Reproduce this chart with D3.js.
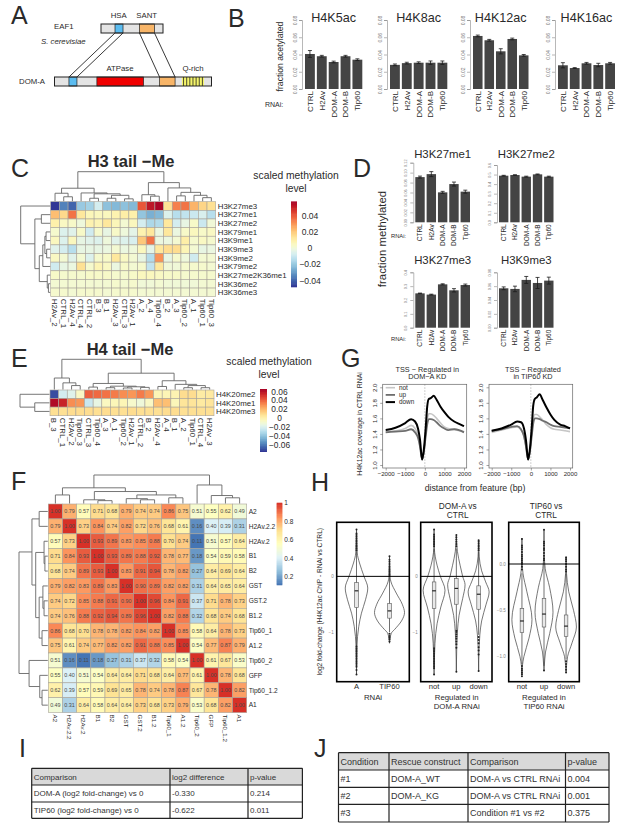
<!DOCTYPE html>
<html>
<head>
<meta charset="utf-8">
<script src="https://cdn.jsdelivr.net/npm/d3@7"></script>
<style>
  html, body { margin: 0; padding: 0; background: #fff; }
  svg { display: block; }
  text { font-family: "Liberation Sans", Arial, sans-serif; fill: #2a2a2a; }
</style>
</head>
<body>
<div id="chart"></div>
<script>
// Panel A, domain extents in percent of protein length
const eaf1Domains = [['HSA', 22.6, 35.5, '#5bbcf0'], ['SANT', 62, 86.3, '#f8b568']];
const domADomains = [['HSA', 9.2, 14.3, '#5bbcf0'], ['ATPase', 27, 56.7, '#f00000'], ['SANT', 66.9, 76.8, '#f8b568']];
const qRich = [81.2, 95.2];

// Panel B
const rnaiLabels = ['CTRL', 'H2Av', 'DOM-A', 'DOM-B', 'Tip60'];
const h4k5ac = [0.0406, 0.038, 0.0313, 0.038, 0.034];
const h4k5acErr = [0.004, 0.001, 0.001, 0.001, 0.001];
const h4k8ac = [0.028, 0.03, 0.0305, 0.0305, 0.0305];
const h4k8acErr = [0.001, 0.001, 0.001, 0.002, 0.002];
const h4k12ac = [0.0615, 0.0565, 0.0437, 0.058, 0.039];
const h4k12acErr = [0.001, 0.001, 0.003, 0.001, 0.001];
const h4k16ac = [0.0275, 0.0243, 0.0298, 0.0278, 0.0298];
const h4k16acErr = [0.003, 0.0005, 0.001, 0.002, 0.001];

// Panel D
const h3k27me1 = [0.091, 0.097, 0.0603, 0.077, 0.0617];
const h3k27me1Err = [0.002, 0.005, 0.002, 0.004, 0.003];
const h3k27me2 = [0.488, 0.495, 0.478, 0.502, 0.478];
const h3k27me2Err = [0.004, 0.003, 0.005, 0.004, 0.005];
const h3k27me3 = [0.248, 0.239, 0.313, 0.27, 0.308];
const h3k27me3Err = [0.002, 0.003, 0.004, 0.012, 0.007];
const h3k9me3 = [0.0569, 0.056, 0.069, 0.0646, 0.068];
const h3k9me3Err = [0.002, 0.004, 0.005, 0.008, 0.005];

// Panel C
const h3Cols = ['H2Av_2', 'CTRL_1', 'H2Av_4', 'CTRL_4', 'CTRL_2', 'B_3', 'B_1', 'H2Av_3', 'CTRL_3', 'H2Av_1', 'A_2', 'A_4', 'Tip60_4', 'B_2', 'A_3', 'Tip60_2', 'A_1', 'Tip60_1', 'Tip60_3'];
const h3Rows = ['H3K27me3', 'H3K27me1', 'H3K27me2', 'H3K79me1', 'H3K9me1', 'H3K9me3', 'H3K9me2', 'H3K79me2', 'H3K27me2K36me1', 'H3K36me2', 'H3K36me3'];
const h3Values = [
  [-0.048, -0.035, -0.04, -0.02, -0.018, -0.008, -0.022, -0.024, -0.022, -0.024, 0.04, 0.052, 0.056, 0.014, 0.033, 0.035, 0.024, 0.017, 0.014],
  [0.022, 0.016, 0.035, 0.012, 0.006, 0.005, 0.005, 0.008, 0.01, 0.009, -0.021, -0.026, -0.024, -0.006, -0.014, -0.012, -0.01, -0.007, -0.014],
  [0.009, 0.004, 0.003, -0.001, 0.008, 0.007, 0.012, 0.006, 0.001, 0.005, -0.008, -0.016, -0.015, 0.012, -0.008, -0.003, 0.003, -0.01, 0],
  [0.002, -0.006, -0.005, 0.003, -0.009, 0.002, -0.003, 0.003, -0.001, -0.004, 0.008, 0.012, -0.002, 0.012, -0.002, 0.003, 0.005, 0.003, 0.004],
  [0.005, -0.006, 0.005, -0.003, -0.005, -0.006, -0.001, -0.005, -0.006, -0.007, 0.02, 0.035, -0.002, -0.002, 0.001, 0.01, 0.002, 0.004, 0.002],
  [-0.005, -0.008, -0.014, -0.003, -0.003, -0.003, -0.002, 0.001, -0.002, -0.001, 0.005, -0.004, 0.012, 0.015, 0.015, 0.007, 0.001, -0.003, -0.002],
  [0.004, 0.001, -0.005, 0.001, -0.006, 0.002, 0.003, 0.012, 0.004, 0.001, -0.003, -0.015, 0.03, -0.003, 0.002, -0.001, -0.009, 0.001, 0.001],
  [-0.009, -0.003, -0.002, 0.014, 0.002, 0.007, 0.004, -0.002, 0.003, 0.001, 0.002, -0.012, 0.012, 0, 0, 0.002, 0.002, 0.002, 0.001],
  [0.003, 0.002, 0.002, 0.002, 0.003, 0.003, 0.003, 0.002, 0.002, 0.003, 0.005, 0.005, 0.004, 0.003, 0.003, 0.002, 0.002, 0.002, 0.002],
  [0.001, 0.001, 0.001, 0.001, 0.001, 0.001, 0.001, 0.002, 0.001, 0.002, 0, 0, 0.001, 0, 0, 0, 0, 0.001, 0.001],
  [0.002, 0.002, 0.001, 0.002, 0.002, 0.002, 0.001, 0.002, 0.002, 0.002, 0.001, 0.001, 0.001, 0.001, 0.001, 0.001, 0.001, 0.001, 0.001]
];
// dendrograms: [height, left, right], a number is a leaf index
const h3ColTree = [1,
  [0.44, [0.27, 0, [0.15, 1, 2]], [0.28, 3, [0.25, [0.1, 4, 5], [0.2, [0.1, 6, 7], [0.08, 8, 9]]]]],
  [0.63, [0.22, 10, [0.17, 11, 12]], [0.45, 13, [0.3, [0.18, 14, 15], [0.2, 16, [0.12, 17, 18]]]]]];
const h3RowTree = [1, 0, [0.52, [0.3, 1, 2], [0.37, [0.25, [0.18, [0.14, 3, 4], [0.12, 5, 6]], 7], [0.1, 8, [0.06, 9, 10]]]]];

// Panel E
const h4Cols = ['B_3', 'CTRL_1', 'H2Av_2', 'Tip60_3', 'CTRL_3', 'Tip60_4', 'A_3', 'A_1', 'Tip60_2', 'H2Av_1', 'CTRL_2', 'B_2', 'H2Av_4', 'A_4', 'B_1', 'A_2', 'Tip60_1', 'CTRL_4', 'H2Av_3'];
const h4Rows = ['H4K20me2', 'H4K20me1', 'H4K20me3'];
const h4Values = [
  [-0.07, -0.022, -0.018, -0.006, 0.04, 0.038, 0.036, 0.034, 0.03, 0.028, 0.034, 0.028, -0.002, -0.002, -0.001, 0.009, 0.009, 0.003, 0.004],
  [0.062, 0.055, 0.03, 0.028, -0.025, -0.015, -0.005, -0.003, -0.002, -0.008, -0.012, -0.006, 0.018, 0.018, -0.003, 0.006, 0.006, 0.004, 0.006],
  [0.008, 0.008, 0.009, 0.009, 0.009, 0.008, 0.009, 0.008, 0.008, 0.009, 0.008, 0.008, 0.008, 0.009, 0.009, 0.008, 0.008, 0.008, 0.008]
];
const h4ColTree = [1,
  [0.38, 0, [0.22, 1, [0.13, 2, 3]]],
  [0.54, [0.2, [0.08, 4, 5], [0.11, [0.06, 6, 7], [0.09, [0.05, 8, 9], [0.07, 10, 11]]]],
    [0.29, [0.1, 12, 13], [0.17, 14, [0.13, [0.06, 15, 16], [0.06, 17, 18]]]]]];
const h4RowTree = [1, 0, [0.5, 1, 2]];

// Panel F
const corrLabels = ['A2', 'H2Av.2.2', 'H2Av.2', 'B1', 'B2', 'GST', 'GST.2', 'B1.2', 'Tip60_1', 'A1.2', 'Tip60_2', 'GFP', 'Tip60_1.2', 'A1'];
const corrValues = [
  [1.00, 0.79, 0.57, 0.71, 0.68, 0.79, 0.74, 0.74, 0.86, 0.75, 0.51, 0.55, 0.62, 0.49],
  [0.79, 1.00, 0.73, 0.84, 0.74, 0.82, 0.72, 0.76, 0.68, 0.61, 0.16, 0.40, 0.39, 0.31],
  [0.57, 0.73, 1.00, 0.93, 0.89, 0.83, 0.85, 0.88, 0.70, 0.74, 0.11, 0.51, 0.57, 0.64],
  [0.71, 0.84, 0.93, 1.00, 0.93, 0.89, 0.88, 0.92, 0.78, 0.77, 0.18, 0.54, 0.59, 0.58],
  [0.68, 0.74, 0.89, 0.93, 1.00, 0.83, 0.91, 0.94, 0.78, 0.82, 0.27, 0.64, 0.69, 0.64],
  [0.79, 0.82, 0.83, 0.89, 0.83, 1.00, 0.90, 0.89, 0.82, 0.82, 0.31, 0.64, 0.65, 0.64],
  [0.74, 0.72, 0.85, 0.88, 0.91, 0.90, 1.00, 0.96, 0.84, 0.91, 0.37, 0.71, 0.78, 0.73],
  [0.74, 0.76, 0.88, 0.92, 0.94, 0.89, 0.96, 1.00, 0.82, 0.88, 0.32, 0.68, 0.74, 0.68],
  [0.86, 0.68, 0.70, 0.78, 0.78, 0.82, 0.84, 0.82, 1.00, 0.85, 0.58, 0.64, 0.78, 0.73],
  [0.75, 0.61, 0.74, 0.77, 0.82, 0.82, 0.91, 0.88, 0.85, 1.00, 0.54, 0.77, 0.87, 0.79],
  [0.51, 0.16, 0.11, 0.18, 0.27, 0.31, 0.37, 0.32, 0.58, 0.54, 1.00, 0.61, 0.67, 0.53],
  [0.55, 0.40, 0.51, 0.54, 0.64, 0.64, 0.71, 0.68, 0.64, 0.77, 0.61, 1.00, 0.78, 0.68],
  [0.62, 0.39, 0.57, 0.59, 0.69, 0.65, 0.78, 0.74, 0.78, 0.87, 0.67, 0.78, 1.00, 0.82],
  [0.49, 0.31, 0.64, 0.58, 0.64, 0.64, 0.73, 0.68, 0.73, 0.79, 0.53, 0.68, 0.82, 1.00]
];
const corrTree = [1,
  [0.55, [0.3, 0, 1], [0.42, [0.13, 2, [0.1, 3, 4]], [0.3, [0.17, 5, [0.13, 6, 7]], [0.2, 8, 9]]]],
  [0.65, 10, [0.28, 11, [0.2, 12, 13]]]];

// Panel G
const gDist = [-2000, -1500, -1000, -700, -500, -350, -250, -140, -50, 50, 120, 200, 300, 450, 600, 800, 1000, 1200, 1500, 1750, 2000];
const domNot = [1.43, 1.44, 1.47, 1.51, 1.47, 1.38, 1.25, 1.07, 1.18, 1.42, 1.58, 1.66, 1.66, 1.64, 1.60, 1.54, 1.49, 1.47, 1.46, 1.44, 1.43];
const domUp = [1.42, 1.43, 1.44, 1.46, 1.42, 1.35, 1.24, 1.07, 1.17, 1.38, 1.52, 1.59, 1.59, 1.58, 1.55, 1.50, 1.47, 1.45, 1.46, 1.45, 1.42];
const domDown = [1.45, 1.48, 1.54, 1.59, 1.56, 1.47, 1.33, 1.07, 1.2, 1.5, 1.75, 1.85, 1.86, 1.89, 1.84, 1.75, 1.68, 1.62, 1.56, 1.53, 1.50];
const tipNot = [1.42, 1.45, 1.48, 1.49, 1.45, 1.37, 1.24, 1.07, 1.18, 1.42, 1.58, 1.65, 1.65, 1.62, 1.58, 1.52, 1.48, 1.46, 1.45, 1.44, 1.43];
const tipUp = [1.44, 1.46, 1.49, 1.50, 1.46, 1.37, 1.24, 1.07, 1.17, 1.38, 1.53, 1.60, 1.60, 1.59, 1.57, 1.55, 1.52, 1.50, 1.49, 1.48, 1.47];
const tipDown = [1.44, 1.47, 1.52, 1.56, 1.55, 1.47, 1.32, 1.07, 1.2, 1.5, 1.76, 1.85, 1.87, 1.91, 1.84, 1.74, 1.65, 1.58, 1.52, 1.50, 1.47];
const gLegend = ['not', 'up', 'down'];

// Panel H, violin profiles as [log2 fold change, density], box as [low, q1, median, q3, high]
const vioA = [[0.84, 0], [0.42, 0.05], [0.24, 0.2], [0, 0.5], [-0.21, 0.75], [-0.42, 0.6], [-0.66, 0.33], [-0.9, 0.15], [-1.26, 0.03], [-1.76, 0]];
const vioTip = [[0.36, 0], [0, 0.03], [-0.1, 0.1], [-0.3, 0.45], [-0.5, 0.85], [-0.65, 1], [-0.8, 0.8], [-0.95, 0.35], [-1.02, 0.12], [-1.2, 0]];
const boxA = [-1.25, -0.56, -0.26, -0.11, 0.45];
const boxTip = [-1.0, -0.75, -0.62, -0.485, -0.02];
const outA = [0.84, 0.77, 0.74, 0.71, 0.68, 0.65, 0.62, 0.59, 0.56, 0.53, 0.5, 0.47, -1.26, -1.29, -1.32, -1.35, -1.38, -1.41, -1.44, -1.47, -1.5, -1.53, -1.56, -1.59, -1.62, -1.68, -1.76];
const outTip = [0.36, 0.3, 0.26, 0.22, 0.18, 0.15, 0.12, 0.09, 0.06, 0.03, 0, -1.03, -1.07, -1.1, -1.13, -1.17];

const vioDomNot = [[0.84, 0], [0.5, 0.02], [0.2, 0.2], [0, 0.42], [-0.25, 0.73], [-0.55, 0.45], [-0.85, 0.2], [-1.2, 0.06], [-1.76, 0]];
const vioDomUp = [[0.74, 0], [0.45, 0.07], [0.2, 0.25], [0, 0.42], [-0.15, 0.58], [-0.4, 0.42], [-0.7, 0.18], [-1.0, 0.07], [-1.5, 0.01], [-1.7, 0]];
const vioDomDown = [[0.65, 0], [0.35, 0.04], [0.1, 0.2], [-0.1, 0.47], [-0.28, 0.7], [-0.5, 0.5], [-0.8, 0.2], [-1.05, 0.08], [-1.5, 0.01], [-1.7, 0]];
const boxDomNot = [-1.28, -0.575, -0.26, -0.1, 0.5];
const boxDomUp = [-0.95, -0.5, -0.215, -0.04, 0.5];
const boxDomDown = [-1.05, -0.59, -0.32, -0.17, 0.44];
const outDomNot = [0.84, 0.75, 0.72, 0.69, 0.66, 0.63, 0.6, 0.57, 0.54, -1.29, -1.32, -1.35, -1.38, -1.41, -1.44, -1.47, -1.5, -1.53, -1.56, -1.59, -1.62, -1.65, -1.76];
const outDomUp = [0.74, 0.7, 0.66, 0.62, 0.58, 0.54, -0.97, -1.0, -1.04, -1.08, -1.12, -1.17, -1.22, -1.28, -1.71];
const outDomDown = [0.65, 0.62, 0.59, 0.56, 0.53, 0.5, 0.47, -1.09, -1.14, -1.2, -1.27, -1.33, -1.4, -1.7];

const vioTipNot = [[0.28, 0], [0, 0.02], [-0.1, 0.07], [-0.3, 0.33], [-0.6, 0.67], [-0.8, 0.47], [-1.0, 0.13], [-1.1, 0.03], [-1.2, 0]];
const vioTipUp = [[0.37, 0], [0.1, 0.02], [-0.05, 0.08], [-0.25, 0.37], [-0.52, 0.6], [-0.75, 0.38], [-0.95, 0.1], [-1.1, 0.02], [-1.15, 0]];
const vioTipDown = [[0.08, 0], [-0.1, 0.03], [-0.3, 0.18], [-0.5, 0.5], [-0.68, 0.69], [-0.85, 0.4], [-1.0, 0.1], [-1.15, 0.01], [-1.17, 0]];
const boxTipNot = [-1.08, -0.74, -0.615, -0.48, -0.1];
const boxTipUp = [-1.1, -0.68, -0.54, -0.37, 0.03];
const boxTipDown = [-1.03, -0.78, -0.67, -0.55, -0.1];
const outTipNot = [0.27, 0.2, 0.18, 0.16, 0.13, 0.1, 0.08, 0.06, 0.04, 0.02, 0, -0.03, -0.06, -1.1, -1.13, -1.15, -1.17, -1.19, -1.21];
const outTipUp = [0.37, 0.24, 0.22, 0.2, 0.17, 0.15, 0.12, 0.09, 0.06, 0.04, -1.15];
const outTipDown = [0.07, 0.05, 0.03, 0, -0.03, -0.06, -0.08, -1.05, -1.08, -1.11, -1.14, -1.17];

// Panels I and J
const iHeader = ['Comparison', 'log2 difference', 'p-value'];
const iRows = [['DOM-A (log2 fold-change) vs 0', '-0.330', '0.214'], ['TIP60 (log2 fold-change) vs 0', '-0.622', '0.011']];
const jHeader = ['Condition', 'Rescue construct', 'Comparison', 'p-value'];
const jRows = [['#1', 'DOM-A_WT', 'DOM-A vs CTRL RNAi', '0.004'], ['#2', 'DOM-A_KG', 'DOM-A vs CTRL RNAi', '0.001'], ['#3', '', 'Condition #1 vs #2', '0.375']];

const svg = d3.select('#chart').append('svg').attr('width', 617).attr('height', 823);

function label(txt, x, y, size, opts = {}) {
  const t = svg.append('text')
    .attr('x', x).attr('y', y)
    .attr('font-size', size)
    .attr('text-anchor', opts.anchor || 'start')
    .text(txt);
  if (opts.weight) t.attr('font-weight', opts.weight);
  if (opts.style) t.attr('font-style', opts.style);
  if (opts.fill) t.style('fill', opts.fill);
  if (opts.rotate !== undefined) t.attr('transform', `rotate(${opts.rotate},${x},${y})`);
  return t;
}

// panel letters
[['A', 11, 24], ['B', 228, 27], ['C', 11, 177], ['D', 353, 177], ['E', 11, 367], ['F', 11, 490], ['G', 341, 367], ['H', 311, 491], ['I', 19, 757], ['J', 314, 757]]
  .forEach(d => label(d[0], d[1], d[2], 25));

// ---------- A ----------
const eafScale = d3.scaleLinear().domain([0, 100]).range([101, 163]);
const domAScale = d3.scaleLinear().domain([0, 100]).range([54.5, 211.5]);
const barA = svg.append('g');
function proteinBar(scale, y, h, domains) {
  barA.append('rect').attr('x', scale(0)).attr('y', y).attr('width', scale(100) - scale(0)).attr('height', h)
    .attr('fill', '#e4e4e4');
  barA.selectAll(null).data(domains).enter().append('rect')
    .attr('x', d => scale(d[1])).attr('y', y)
    .attr('width', d => scale(d[2]) - scale(d[1])).attr('height', h)
    .attr('fill', d => d[3]).attr('stroke', '#222').attr('stroke-width', 0.7);
}
proteinBar(eafScale, 24, 9, eaf1Domains);
proteinBar(domAScale, 77, 9, domADomains);
barA.append('rect').attr('x', domAScale(qRich[0])).attr('y', 77).attr('width', domAScale(qRich[1]) - domAScale(qRich[0])).attr('height', 9).attr('fill', '#f5f56a');
barA.selectAll(null).data(d3.range(qRich[0] + 1, qRich[1], 2)).enter().append('line')
  .attr('x1', d => domAScale(d)).attr('x2', d => domAScale(d)).attr('y1', 77).attr('y2', 86)
  .attr('stroke', '#222').attr('stroke-width', 0.8);
barA.append('rect').attr('x', eafScale(0)).attr('y', 24).attr('width', 62).attr('height', 9).attr('fill', 'none').attr('stroke', '#222').attr('stroke-width', 1);
barA.append('rect').attr('x', domAScale(0)).attr('y', 77).attr('width', 157).attr('height', 9).attr('fill', 'none').attr('stroke', '#222').attr('stroke-width', 1);
// links between the shared domains
[[eaf1Domains[0], domADomains[0]], [eaf1Domains[1], domADomains[2]]].forEach(pair => {
  [1, 2].forEach(k => {
    barA.append('line')
      .attr('x1', eafScale(pair[0][k])).attr('y1', 33)
      .attr('x2', domAScale(pair[1][k])).attr('y2', 77)
      .attr('stroke', '#222').attr('stroke-width', 0.9);
  });
});
label('HSA', 118.7, 17.5, 7.8, { anchor: 'middle' });
label('SANT', 146.7, 17.5, 7.8, { anchor: 'middle' });
label('EAF1', 54, 29, 7.8);
label('S. cerevisiae', 41, 43.5, 7.8, { style: 'italic' });
label('ATPase', 120, 71, 7.8, { anchor: 'middle' });
label('Q-rich', 193, 71, 7.8, { anchor: 'middle' });
label('DOM-A', 19, 83.5, 7.8);

// ---------- bar panels B and D ----------
function barPanel(opts) {
  const g = svg.append('g');
  const x = d3.scaleBand().domain(rnaiLabels).range([opts.x0, opts.x1]).paddingInner(0.17);
  const y = d3.scaleLinear().domain([0, opts.yMax]).range([opts.yBase, opts.yTop]);
  g.selectAll('rect').data(opts.values).enter().append('rect')
    .attr('x', (d, i) => x(rnaiLabels[i])).attr('width', x.bandwidth())
    .attr('y', d => y(d)).attr('height', d => opts.yBase - y(d))
    .attr('fill', '#444');
  g.selectAll('.err').data(opts.values).enter().append('path')
    .attr('fill', 'none').attr('stroke', '#1a1a1a').attr('stroke-width', 0.8)
    .attr('d', (d, i) => {
      const cx = x(rnaiLabels[i]) + x.bandwidth() / 2;
      const e = opts.errs[i];
      return `M${cx - 2},${y(d + e)}H${cx + 2}M${cx},${y(d + e)}V${y(d - e)}M${cx - 2},${y(d - e)}H${cx + 2}`;
    });
  const axis = g.append('g')
    .attr('transform', `translate(${opts.x0 - opts.axisGap},0)`)
    .call(d3.axisLeft(y).tickValues(opts.ticks).tickFormat(d3.format(opts.fmt)).tickSize(3).tickPadding(opts.tickPad));
  axis.selectAll('path,line').attr('stroke', '#888').attr('stroke-width', 0.6);
  // rotated tick text sits to the left of the tick
  axis.selectAll('text')
    .attr('font-size', opts.tickFont).style('fill', '#777')
    .attr('text-anchor', 'middle').attr('dy', 0).attr('x', 0).attr('y', 0)
    .attr('transform', `translate(${-opts.tickPad - 3},0) rotate(-90)`);
  g.selectAll('.cat').data(rnaiLabels).enter().append('text')
    .attr('font-size', opts.catFont)
    .attr('text-anchor', 'end')
    .attr('transform', d => `translate(${x(d) + x.bandwidth() / 2 + opts.catFont * 0.36},${opts.yBase + 2}) rotate(-90)`)
    .text(d => d);
  label(opts.title, (opts.x0 + opts.x1) / 2, opts.titleY, opts.titleFont, { anchor: 'middle' });
}
const bBase = { yBase: 89, yTop: 20, yMax: 0.08, ticks: [0, 0.02, 0.04, 0.06, 0.08], fmt: '.2f', axisGap: 3, tickPad: 2.5, tickFont: 5, catFont: 8, titleY: 22, titleFont: 12.6 };
barPanel({ ...bBase, x0: 305, x1: 362.3, values: h4k5ac, errs: h4k5acErr, title: 'H4K5ac' });
barPanel({ ...bBase, x0: 390, x1: 447.3, values: h4k8ac, errs: h4k8acErr, title: 'H4K8ac' });
barPanel({ ...bBase, x0: 473, x1: 528.5, values: h4k12ac, errs: h4k12acErr, title: 'H4K12ac' });
barPanel({ ...bBase, x0: 558, x1: 615, values: h4k16ac, errs: h4k16acErr, title: 'H4K16ac' });
label('fraction acetylated', 283, 56.5, 8.6, { anchor: 'middle', rotate: -90 });
label('RNAi:', 265, 107, 7);

const dBase = { axisGap: 2, tickPad: 3, tickFont: 3.8, catFont: 6.5, titleFont: 11.4 };
barPanel({ ...dBase, x0: 415.3, x1: 470, yBase: 222.3, yTop: 162.7, yMax: 0.12, ticks: d3.range(0, 0.121, 0.02), fmt: '.2f', values: h3k27me1, errs: h3k27me1Err, title: 'H3K27me1', titleY: 158 });
barPanel({ ...dBase, x0: 499, x1: 553.5, yBase: 222.3, yTop: 165, yMax: 0.6, ticks: d3.range(0, 0.61, 0.1), fmt: '.1f', values: h3k27me2, errs: h3k27me2Err, title: 'H3K27me2', titleY: 158 });
barPanel({ ...dBase, x0: 415.3, x1: 470, yBase: 327.7, yTop: 272.3, yMax: 0.4, ticks: d3.range(0, 0.41, 0.1), fmt: '.1f', values: h3k27me3, errs: h3k27me3Err, title: 'H3K27me3', titleY: 264 });
barPanel({ ...dBase, x0: 499, x1: 553.5, yBase: 327.7, yTop: 272.3, yMax: 0.08, ticks: d3.range(0, 0.081, 0.02), fmt: '.2f', values: h3k9me3, errs: h3k9me3Err, title: 'H3K9me3', titleY: 264 });
label('fraction methylated', 386, 239, 11.4, { anchor: 'middle', rotate: -90 });
label('RNAi:', 391, 238, 5.8);
label('RNAi:', 391, 341, 5.8);

// ---------- heatmaps ----------
function dendrogram(tree, leaf, h, vertical) {
  const p = d3.path();
  const move = (a, b) => vertical ? p.moveTo(a, b) : p.moveTo(b, a);
  const to = (a, b) => vertical ? p.lineTo(a, b) : p.lineTo(b, a);
  function walk(n) {
    if (typeof n === 'number') return { pos: leaf(n), height: 0 };
    const a = walk(n[1]);
    const b = walk(n[2]);
    move(a.pos, h(a.height));
    to(a.pos, h(n[0]));
    to(b.pos, h(n[0]));
    to(b.pos, h(b.height));
    return { pos: (a.pos + b.pos) / 2, height: n[0] };
  }
  walk(tree);
  svg.append('path').attr('d', p.toString()).attr('fill', 'none').attr('stroke', '#666').attr('stroke-width', 0.9);
}

function heatmap(o) {
  const x = d3.scaleBand().domain(d3.range(o.cols.length)).range([o.x0, o.x1]);
  const y = d3.scaleBand().domain(d3.range(o.rows.length)).range([o.y0, o.y1]);
  const g = svg.append('g');
  const rowG = g.selectAll('g').data(o.values).enter().append('g');
  rowG.selectAll('rect').data((d, i) => d.map((v, j) => ({ v, i, j }))).enter().append('rect')
    .attr('x', d => x(d.j)).attr('y', d => y(d.i))
    .attr('width', x.bandwidth()).attr('height', y.bandwidth())
    .attr('fill', d => o.color(d.v)).attr('stroke', '#a9a49a').attr('stroke-width', 0.6);
  if (o.showValues) {
    rowG.selectAll('text').data((d, i) => d.map((v, j) => ({ v, i, j }))).enter().append('text')
      .attr('x', d => x(d.j) + x.bandwidth() / 2).attr('y', d => y(d.i) + y.bandwidth() / 2 + 1.9)
      .attr('text-anchor', 'middle').attr('font-size', 5.4).style('fill', '#4a4a4a')
      .text(d => d.v.toFixed(2));
  }
  g.selectAll('.rl').data(o.rows).enter().append('text')
    .attr('x', o.x1 + 2).attr('y', (d, i) => y(i) + y.bandwidth() / 2 + o.rowFont * 0.35)
    .attr('font-size', o.rowFont).text(d => d);
  g.selectAll('.cl').data(o.cols).enter().append('text')
    .attr('font-size', o.colFont)
    .attr('transform', (d, i) => `translate(${x(i) + x.bandwidth() / 2 - o.colFont * 0.36},${o.y1 + 2}) rotate(90)`)
    .text(d => d);
  const colH = d3.scaleLinear().domain([0, 1]).range([o.y0 - 0.5, o.colTop]);
  const rowH = d3.scaleLinear().domain([0, 1]).range([o.x0 - 0.5, o.rowLeft]);
  dendrogram(o.colTree, i => x(i) + x.bandwidth() / 2, colH, true);
  dendrogram(o.rowTree, i => y(i) + y.bandwidth() / 2, rowH, false);
}

function colorbar(color, domain, x0, w, y0, y1) {
  const y = d3.scaleLinear().domain(domain).range([y1, y0]);
  const steps = d3.range(0, 100).map(i => domain[0] + (domain[1] - domain[0]) * i / 100);
  svg.append('g').selectAll('rect').data(steps).enter().append('rect')
    .attr('x', x0).attr('width', w)
    .attr('y', d => y(d) - (y1 - y0) / 100 - 0.3)
    .attr('height', (y1 - y0) / 100 + 0.6)
    .attr('fill', d => color(d));
  return y;
}
const minusFmt = d => d3.format('.2f')(d).replace('-', '\u2212');

const h3Domain = [-0.048, 0.057];
const h3Color = d3.scaleSequential(t => d3.interpolateRdYlBu(1 - t)).domain(h3Domain);
heatmap({ rows: h3Rows, cols: h3Cols, values: h3Values, color: h3Color, x0: 50.7, x1: 215.7, y0: 201.7, y1: 296.7, rowFont: 7.9, colFont: 7.9, colTop: 171.7, rowLeft: 20.7, colTree: h3ColTree, rowTree: h3RowTree });
label('H3 tail \u2212Me', 131, 167, 16.5, { anchor: 'middle', weight: 'bold' });
label('scaled methylation', 296, 179, 10.3, { anchor: 'middle' });
label('level', 296, 192, 10.3, { anchor: 'middle' });
const h3LegendY = colorbar(h3Color, h3Domain, 291, 6, 201.7, 287);
[0.04, 0.02, 0, -0.02, -0.04].forEach(t => label(t === 0 ? '0' : minusFmt(t), 310, h3LegendY(t) + 3, 8.6, { anchor: 'middle' }));

const h4Domain = [-0.075, 0.065];
const h4Color = d3.scaleSequential(t => d3.interpolateRdYlBu(1 - t)).domain(h4Domain);
heatmap({ rows: h4Rows, cols: h4Cols, values: h4Values, color: h4Color, x0: 50, x1: 214, y0: 390, y1: 415.7, rowFont: 7.9, colFont: 7.9, colTop: 359.3, rowLeft: 20, colTree: h4ColTree, rowTree: h4RowTree });
label('H4 tail \u2212Me', 130, 355, 16.5, { anchor: 'middle', weight: 'bold' });
label('scaled methylation', 269, 365, 10.3, { anchor: 'middle' });
label('level', 269, 378, 10.3, { anchor: 'middle' });
const h4LegendY = colorbar(h4Color, h4Domain, 260, 7, 389.3, 451.7);
[0.06, 0.04, 0.02, 0, -0.02, -0.04, -0.06].forEach(t => label(t === 0 ? '0' : minusFmt(t), 279.5, h4LegendY(t) + 3, 8.4, { anchor: 'middle' }));

const corrDomain = [0.11, 1];
const corrColor = d3.scaleLinear()
  .domain(d3.range(7).map(i => corrDomain[0] + (corrDomain[1] - corrDomain[0]) * i / 6))
  .range(['#4575b4', '#91bfdb', '#e0f3f8', '#ffffbf', '#fee090', '#fc8d59', '#d73027']);
heatmap({ rows: corrLabels, cols: corrLabels, values: corrValues, color: corrColor, showValues: true, x0: 48.3, x1: 246.7, y0: 504, y1: 712.6, rowFont: 6.6, colFont: 6.2, colTop: 475, rowLeft: 19, colTree: corrTree, rowTree: corrTree });
const corrLegendY = colorbar(corrColor, corrDomain, 276.7, 5.6, 503, 585);
[1, 0.8, 0.6, 0.4, 0.2].forEach(t => label(String(t), 284.3, corrLegendY(t) + 2.4, 6.5));

// ---------- G ----------
function coveragePlot(x0, x1, tickLeft, tickRight, series, t1, t2, tx, withLegend) {
  const g = svg.append('g');
  const x = d3.scaleLinear().domain([-2000, 2000]).range([tickLeft, tickRight]);
  const y = d3.scaleLinear().domain([1, 2]).range([465, 387.3]);
  const line = d3.line().x((d, i) => x(gDist[i])).y(d => y(d)).curve(d3.curveMonotoneX);
  g.append('line').attr('x1', x(0)).attr('x2', x(0)).attr('y1', 384.3).attr('y2', 468)
    .attr('stroke', '#999').attr('stroke-width', 0.6).attr('stroke-dasharray', '1.5 1.5');
  const styles = [['#c6c6c6', 1.6], ['#6e6e6e', 1.8], ['#000', 2]];
  g.selectAll('.ln').data(series).enter().append('path')
    .attr('d', d => line(d)).attr('fill', 'none')
    .attr('stroke', (d, i) => styles[i][0]).attr('stroke-width', (d, i) => styles[i][1]);
  g.append('rect').attr('x', x0).attr('y', 384.3).attr('width', x1 - x0).attr('height', 83.7)
    .attr('fill', 'none').attr('stroke', '#666').attr('stroke-width', 0.7);
  const xAx = g.append('g').attr('transform', 'translate(0,468)')
    .call(d3.axisBottom(x).tickValues([-2000, -1000, 0, 1000, 2000]).tickSize(2.5).tickPadding(1.5).tickFormat(d => String(d).replace('-', '\u2212')));
  xAx.select('.domain').remove();
  xAx.selectAll('line').attr('stroke', '#666').attr('stroke-width', 0.6);
  xAx.selectAll('text').attr('font-size', 6.1);
  const yAx = g.append('g').attr('transform', `translate(${x0},0)`)
    .call(d3.axisLeft(y).tickValues([1, 1.2, 1.4, 1.6, 1.8, 2]).tickSize(2.5).tickFormat(d3.format('.1f')));
  yAx.select('.domain').remove();
  yAx.selectAll('line').attr('stroke', '#666').attr('stroke-width', 0.6);
  yAx.selectAll('text').attr('font-size', 6.1).attr('text-anchor', 'middle').attr('dy', 0).attr('x', 0)
    .attr('transform', 'translate(-6,0) rotate(-90)');
  label(t1, tx, 371.7, 7.3, { anchor: 'middle' });
  label(t2, tx, 379.3, 7.3, { anchor: 'middle' });
  if (withLegend) {
    gLegend.forEach((name, i) => {
      g.append('line').attr('x1', 385.7).attr('x2', 395).attr('y1', 387.7 + i * 7.2).attr('y2', 387.7 + i * 7.2)
        .attr('stroke', styles[i][0]).attr('stroke-width', styles[i][1]);
      label(name, 399, 390 + i * 7.2, 6.4);
    });
  }
}
coveragePlot(382.7, 466.7, 385.7, 464, [domNot, domUp, domDown], 'TSS \u2212 Regulated in', 'DOM\u2212A KD', 427.3, true);
coveragePlot(489, 572.7, 491.7, 570, [tipNot, tipUp, tipDown], 'TSS \u2212 Regulated', 'in TIP60 KD', 533, false);
label('H4K12ac coverage in CTRL RNAi', 361.7, 424, 6.9, { anchor: 'middle', rotate: -90 });
label('distance from feature (bp)', 475, 490.7, 8.8, { anchor: 'middle' });

// ---------- H ----------
function violinPanel(o) {
  const g = svg.append('g');
  const x = d3.scalePoint().domain(o.cats).range([o.x0, o.x1]).padding(0.6);
  const y = d3.scaleLinear().domain(o.domain).range([681.7, 522.3]);
  const w = d3.scaleLinear().domain([0, 1]).range([0, 15]);
  o.violins.forEach((v, i) => {
    const cx = x(o.cats[i]);
    g.append('path')
      .attr('d', d3.area().y(d => y(d[0])).x0(d => cx - w(d[1])).x1(d => cx + w(d[1])).curve(d3.curveMonotoneY)(v))
      .attr('fill', 'none').attr('stroke', '#3c3c3c').attr('stroke-width', 0.7);
    const b = o.boxes[i];
    g.append('line').attr('x1', cx).attr('x2', cx).attr('y1', y(b[0])).attr('y2', y(b[4])).attr('stroke', '#333').attr('stroke-width', 0.7);
    g.append('rect').attr('x', cx - 1.8).attr('width', 3.6).attr('y', y(b[3])).attr('height', y(b[1]) - y(b[3]))
      .attr('fill', '#e8e8e8').attr('stroke', '#555').attr('stroke-width', 0.6);
    g.append('line').attr('x1', cx - 1.8).attr('x2', cx + 1.8).attr('y1', y(b[2])).attr('y2', y(b[2])).attr('stroke', '#000').attr('stroke-width', 1);
    g.selectAll(null).data(o.outliers[i]).enter().append('circle')
      .attr('cx', cx).attr('cy', d => y(d)).attr('r', 1).attr('fill', '#222');
    label(o.cats[i], cx, 689, 7.6, { anchor: 'middle' });
  });
  g.append('line').attr('x1', o.x0).attr('x2', o.x1).attr('y1', y(0)).attr('y2', y(0)).attr('stroke', '#000').attr('stroke-width', 1);
  g.append('rect').attr('x', o.x0).attr('y', 522.3).attr('width', o.x1 - o.x0).attr('height', 159.4)
    .attr('fill', 'none').attr('stroke', '#000').attr('stroke-width', 1.6);
  o.ticks.forEach(t => label(o.fmt(t), o.x0 - 3, y(t) + 1.5, 4.5, { anchor: 'end', fill: '#888' }));
}
const axisFmt = d => String(d).replace('-', '\u2212');
const fixedFmt = d => d.toFixed(1).replace('-', '\u2212');
violinPanel({ x0: 336.7, x1: 409.3, domain: [-1.89, 0.97], cats: ['A', 'TIP60'], violins: [vioA, vioTip], boxes: [boxA, boxTip], outliers: [outA, outTip], ticks: [0, -1], fmt: axisFmt });
violinPanel({ x0: 420.7, x1: 492, domain: [-1.89, 0.97], cats: gLegend, violins: [vioDomNot, vioDomUp, vioDomDown], boxes: [boxDomNot, boxDomUp, boxDomDown], outliers: [outDomNot, outDomUp, outDomDown], ticks: [0, -1], fmt: axisFmt });
violinPanel({ x0: 508.7, x1: 579.3, domain: [-1.27, 0.45], cats: gLegend, violins: [vioTipNot, vioTipUp, vioTipDown], boxes: [boxTipNot, boxTipUp, boxTipDown], outliers: [outTipNot, outTipUp, outTipDown], ticks: [0, -0.5, -1], fmt: fixedFmt });
label('log2 fold-change (H4K12ac ChIP - RNAi vs CTRL)', 322.5, 601.6, 6.6, { anchor: 'middle', rotate: -90 });
label('DOM-A vs', 457.7, 509, 8.3, { anchor: 'middle' });
label('CTRL', 457.7, 517.5, 8.3, { anchor: 'middle' });
label('TIP60 vs', 546, 509, 8.3, { anchor: 'middle' });
label('CTRL', 546, 517.5, 8.3, { anchor: 'middle' });
label('RNAi', 373, 700, 7.8, { anchor: 'middle' });
label('Regulated in', 456.7, 700, 7.8, { anchor: 'middle' });
label('DOM-A RNAi', 456.7, 709, 7.8, { anchor: 'middle' });
label('Regulated in', 544, 700, 7.8, { anchor: 'middle' });
label('TIP60 RNAi', 544, 709, 7.8, { anchor: 'middle' });

// ---------- tables ----------
function table(header, rows, xs, ys, font) {
  const g = svg.append('g');
  g.append('rect').attr('x', xs[0]).attr('y', ys[0]).attr('width', xs[xs.length - 1] - xs[0]).attr('height', ys[1] - ys[0]).attr('fill', '#d9d9d9');
  [header].concat(rows).forEach((row, r) => {
    row.forEach((cell, c) => {
      label(cell, xs[c] + 2, (ys[r] + ys[r + 1]) / 2 + font * 0.36, font, { fill: '#333' });
    });
  });
  g.selectAll('.v').data(xs).enter().append('line')
    .attr('x1', d => d).attr('x2', d => d).attr('y1', ys[0]).attr('y2', ys[ys.length - 1])
    .attr('stroke', '#222').attr('stroke-width', 1.2);
  g.selectAll('.h').data(ys).enter().append('line')
    .attr('y1', d => d).attr('y2', d => d).attr('x1', xs[0]).attr('x2', xs[xs.length - 1])
    .attr('stroke', '#222').attr('stroke-width', 1.2);
}
table(iHeader, iRows, [31.7, 170, 248, 302.4], [768.3, 785, 802, 818.3], 8);
table(jHeader, jRows, [338.5, 389, 468, 565.5, 609], [752.7, 770, 787.3, 804.3, 822], 9);
</script>
</body>
</html>
